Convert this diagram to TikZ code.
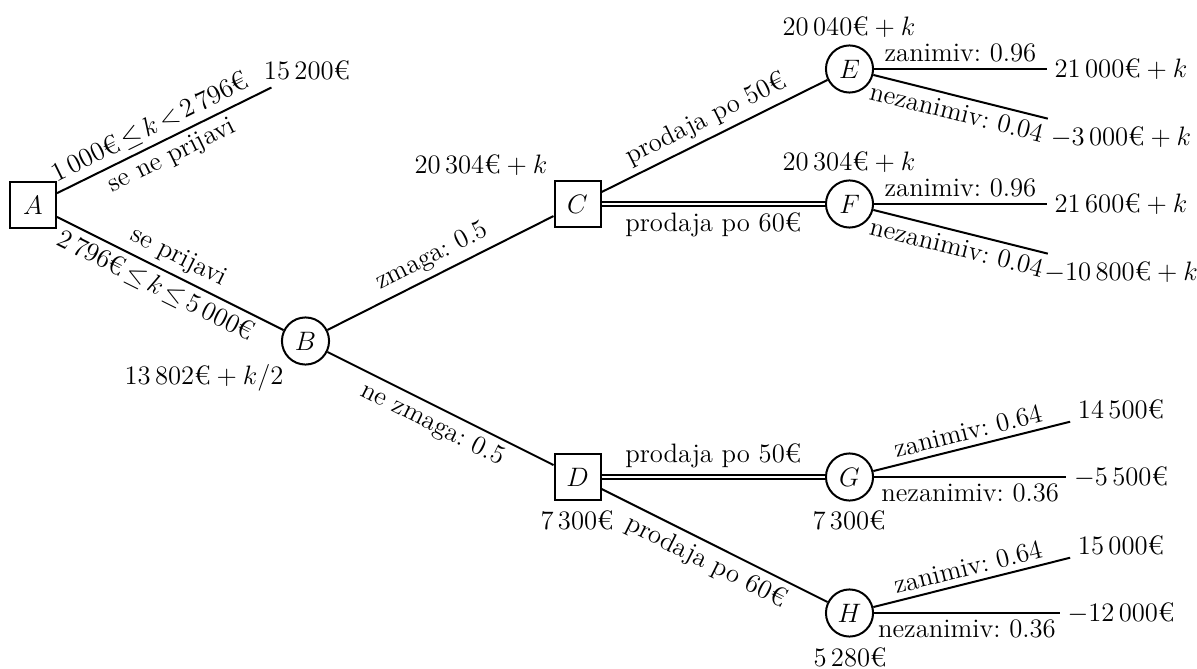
\documentclass[tikz,border=0pt]{standalone}
\usepackage{amsmath}
\frenchspacing
\newcommand{\tightrel}{\thickmuskip=2.5mu\relax}
\begin{document}
\begin{tikzpicture}[x=0.45pt,y=-0.45pt,
  every node/.style={font=\fontsize{12}{14}\selectfont},
  edge/.style={draw, line width=0.9pt},
  best/.style={draw, double, line width=0.9pt, double distance=1.3pt},
  dec/.style={draw, rectangle, line width=0.9pt, minimum size=20.7pt, inner sep=0pt},
  chance/.style={draw, circle, line width=0.9pt, minimum size=21.2pt, inner sep=0pt},
  leaf/.style={inner sep=3.33pt},
  val/.style={inner sep=1pt},
  lbl/.style={inner sep=2.5pt}]
\useasboundingbox (0,0) rectangle (1197,669);

% decision and chance nodes
\node[dec] (A) at (33,205) {$A$};
\node[chance] (B) at (305.5,341) {$B$};
\node[dec] (C) at (577.5,204) {$C$};
\node[dec] (D) at (577.5,477) {$D$};
\node[chance] (E) at (849.5,69) {$E$};
\node[chance] (F) at (849.5,204) {$F$};
\node[chance] (G) at (849.5,477) {$G$};
\node[chance] (H) at (849.5,613) {$H$};

% leaves
\node[leaf] (a1) at (307,70) {$15\,200\text{€}$};
\node[leaf] (e1) at (1121,69) {$21\,000\text{€}+k$};
\node[leaf] (e2) at (1121,137) {$-3\,000\text{€}+k$};
\node[leaf] (f1) at (1121,204) {$21\,600\text{€}+k$};
\node[leaf] (f2) at (1121,272) {$-10\,800\text{€}+k$};
\node[leaf] (g1) at (1121,409) {$14\,500\text{€}$};
\node[leaf] (g2) at (1121,477) {$-5\,500\text{€}$};
\node[leaf] (h1) at (1121,545) {$15\,000\text{€}$};
\node[leaf] (h2) at (1121,613) {$-12\,000\text{€}$};

% values
\node[val] (vB) at (204,378) {$13\,802\text{€}+k/2$};
\node[val] (vC) at (481,165) {$20\,304\text{€}+k$};
\node[val] (vD) at (577,520) {$7\,300\text{€}$};
\node[val] (vE) at (849,27) {$20\,040\text{€}+k$};
\node[val] (vF) at (849,162) {$20\,304\text{€}+k$};
\node[val] (vG) at (849,520) {$7\,300\text{€}$};
\node[val] (vH) at (850,657) {$5\,280\text{€}$};

% connectors
\draw[edge] (A) -- node[lbl,sloped,above,pos=0.47]{$\tightrel 1\,000\text{€}\le k<2\,796\text{€}$} node[lbl,sloped,below]{se ne prijavi} (a1);
\draw[edge] (A) -- node[lbl,sloped,above]{se prijavi} node[lbl,sloped,below,pos=0.47]{$\tightrel 2\,796\text{€}\le k\le 5\,000\text{€}$} (B);
\draw[edge] (B) -- node[lbl,sloped,above]{zmaga: 0.5} (C);
\draw[edge] (B) -- node[lbl,sloped,below]{ne zmaga: 0.5} (D);
\draw[edge] (C) -- node[lbl,sloped,above]{prodaja po 50€} (E);
\draw[best] (C) -- node[lbl,below=1pt]{prodaja po 60€} (F);
\draw[best] (D) -- node[lbl,above=1pt]{prodaja po 50€} (G);
\draw[edge] (D) -- node[lbl,sloped,below]{prodaja po 60€} (H);

\draw[edge] (E) -- node[lbl,above]{zanimiv: 0.96} (e1);
\draw[edge] (E) -- node[lbl,sloped,below]{nezanimiv: 0.04} (e2);
\draw[edge] (F) -- node[lbl,above]{zanimiv: 0.96} (f1);
\draw[edge] (F) -- node[lbl,sloped,below]{nezanimiv: 0.04} (f2);
\draw[edge] (G) -- node[lbl,sloped,above]{zanimiv: 0.64} (g1);
\draw[edge] (G) -- node[lbl,below]{nezanimiv: 0.36} (g2);
\draw[edge] (H) -- node[lbl,sloped,above]{zanimiv: 0.64} (h1);
\draw[edge] (H) -- node[lbl,below]{nezanimiv: 0.36} (h2);
\end{tikzpicture}
\end{document}
